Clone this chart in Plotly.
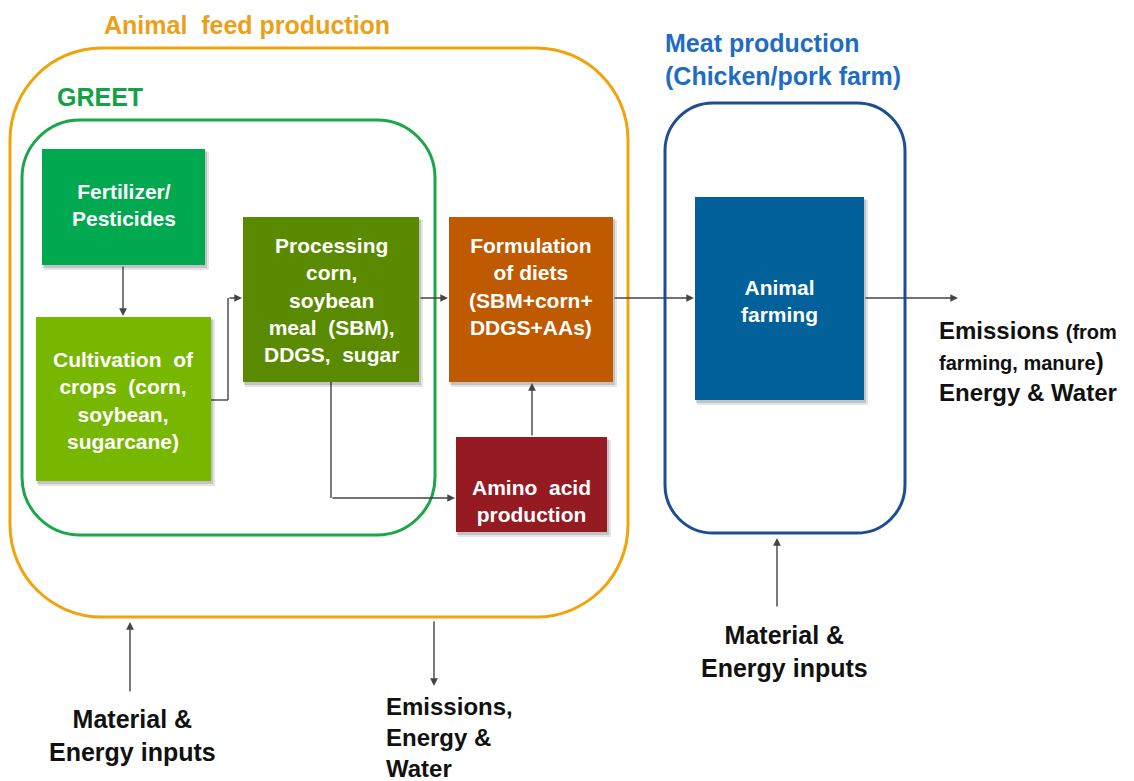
import plotly.graph_objects as go

W, H = 1134, 781
OFF = 8  # page body margin, so data coordinates equal page pixels

# Text content
group_titles = ["Animal  feed production", "GREET", "Meat production<br>(Chicken/pork farm)"]
box_labels = [
    "Fertilizer/<br>Pesticides",
    "Cultivation  of<br>crops  (corn,<br>soybean,<br>sugarcane)",
    "Processing<br>corn,<br>soybean<br>meal  (SBM),<br>DDGS,  sugar",
    "Formulation<br>of diets<br>(SBM+corn+<br>DDGS+AAs)",
    "Amino  acid<br>production",
    "Animal<br>farming",
]
box_colors = ["#00A84F", "#77B700", "#5A8A00", "#BF5A00", "#951A22", "#02609A"]
side_labels = [
    "Material &<br>Energy inputs",
    "Emissions,<br>Energy &<br>Water",
    "Material &<br>Energy inputs",
    "Emissions <span style='font-size:20px'>(from</span><br>"
    "<span style='font-size:20px'>farming, manure</span>)<br>Energy & Water",
]

# Layout of the diagram (pixel coordinates, y downwards)
box_rects = [
    (42, 149, 205, 265),
    (36, 317, 211, 481),
    (243, 217, 419, 382),
    (449, 217, 613, 382),
    (456, 437, 607, 532),
    (695, 197, 864, 400),
]
label_y = [205, 400, 300, 286, 501, 301]
group_rects = [(10, 48, 628, 617, 92), (22, 120, 435, 535, 58), (665, 103, 905, 533, 48)]
group_colors = ["#F0A30A", "#1BA748", "#1F4E8F"]
title_pos = [(247, 25, "center", 25), (100, 97, "center", 25), (663, 59, "left", 25)]
title_colors = ["#ECA01A", "#12A243", "#1F6CC4"]
side_pos = [(132, 735, "center", 25), (384, 737, "left", 24), (784, 651, "center", 25),
            (937, 361, "left", 24)]

# connectors: polyline points, last segment gets an arrow head
connectors = [
    [(123, 265), (123, 316)],
    [(211, 400), (228, 400), (228, 298), (242, 298)],
    [(419, 298), (448, 298)],
    [(331, 382), (331, 498), (455, 498)],
    [(532, 437), (532, 383)],
    [(613, 298), (694, 298)],
    [(864, 298), (958, 298)],
    [(130, 693), (130, 622)],
    [(434, 620), (434, 686)],
    [(777, 608), (777, 538)],
]


def rounded_path(x0, y0, x1, y1, r):
    k = 0.4477 * r
    return (
        f"M {x0 + r},{y0} L {x1 - r},{y0} "
        f"C {x1 - k},{y0} {x1},{y0 + k} {x1},{y0 + r} "
        f"L {x1},{y1 - r} "
        f"C {x1},{y1 - k} {x1 - k},{y1} {x1 - r},{y1} "
        f"L {x0 + r},{y1} "
        f"C {x0 + k},{y1} {x0},{y1 - k} {x0},{y1 - r} "
        f"L {x0},{y0 + r} "
        f"C {x0},{y0 + k} {x0 + k},{y0} {x0 + r},{y0} Z"
    )


fig = go.Figure()
fig.add_trace(go.Scatter(x=[OFF, W + OFF], y=[OFF, H + OFF], mode="markers",
                         marker=dict(opacity=0), hoverinfo="skip", showlegend=False))

shapes = []
annotations = []

# group outlines
for (x0, y0, x1, y1, r), c in zip(group_rects, group_colors):
    shapes.append(dict(type="path", path=rounded_path(x0, y0, x1, y1, r),
                       line=dict(color=c, width=3), xref="x", yref="y"))

# connectors (plain segments, then the arrow segment)
for pts in connectors:
    for (xa, ya), (xb, yb) in zip(pts[:-2], pts[1:-1]):
        shapes.append(dict(type="line", x0=xa, y0=ya, x1=xb, y1=yb,
                           line=dict(color="#444444", width=1.4), xref="x", yref="y"))
    (xa, ya), (xb, yb) = pts[-2], pts[-1]
    annotations.append(dict(x=xb, y=yb, ax=xa, ay=ya, xref="x", yref="y", axref="x", ayref="y",
                            text="", showarrow=True, arrowhead=2, arrowsize=1.1,
                            arrowwidth=1.4, arrowcolor="#444444", standoff=0))

# filled boxes with a soft shadow
for (x0, y0, x1, y1), c, lab, ly in zip(box_rects, box_colors, box_labels, label_y):
    shapes.append(dict(type="rect", x0=x0 + 2, y0=y0 + 3, x1=x1 + 4, y1=y1 + 5,
                       fillcolor="rgba(0,0,0,0.10)", line=dict(width=0), xref="x", yref="y"))
    shapes.append(dict(type="rect", x0=x0 + 1, y0=y0 + 2, x1=x1 + 2, y1=y1 + 3,
                       fillcolor="rgba(0,0,0,0.15)", line=dict(width=0), xref="x", yref="y"))
    shapes.append(dict(type="rect", x0=x0, y0=y0, x1=x1, y1=y1, fillcolor=c,
                       line=dict(width=0), xref="x", yref="y"))
    annotations.append(dict(x=(x0 + x1) / 2, y=ly, text=f"<b>{lab}</b>", showarrow=False,
                            xref="x", yref="y", align="center",
                            font=dict(family="Liberation Sans, Arial", size=21, color="white")))

for (x, y, al, sz), t, c in zip(title_pos, group_titles, title_colors):
    annotations.append(dict(x=x, y=y, text=f"<b>{t}</b>", showarrow=False, xref="x", yref="y",
                            xanchor=al, align="left",
                            font=dict(family="Liberation Sans, Arial", size=sz, color=c)))

for (x, y, al, sz), t in zip(side_pos, side_labels):
    annotations.append(dict(x=x, y=y, text=f"<b>{t}</b>", showarrow=False, xref="x", yref="y",
                            xanchor=al, align=al,
                            font=dict(family="Liberation Sans, Arial", size=sz, color="#111111")))

fig.update_layout(
    width=W, height=H,
    margin=dict(l=0, r=0, t=0, b=0),
    plot_bgcolor="white", paper_bgcolor="white",
    xaxis=dict(range=[OFF, W + OFF], visible=False, fixedrange=True),
    yaxis=dict(range=[H + OFF, OFF], visible=False, fixedrange=True),
    shapes=shapes,
    annotations=annotations,
    showlegend=False,
)

fig.write_html("out.html")
